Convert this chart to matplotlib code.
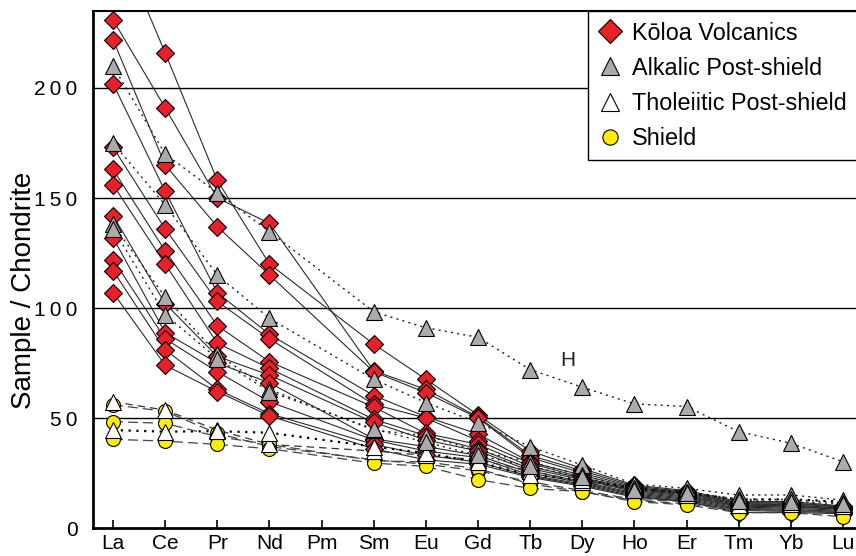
import matplotlib
matplotlib.use("Agg")
import matplotlib.pyplot as plt
from matplotlib.lines import Line2D

plt.rcParams['font.family'] = ['Liberation Sans', 'DejaVu Sans']

elements = ["La", "Ce", "Pr", "Nd", "Pm", "Sm", "Eu", "Gd", "Tb", "Dy", "Ho", "Er", "Tm", "Yb", "Lu"]
measured = ["La", "Ce", "Pr", "Nd", "Sm", "Eu", "Gd", "Tb", "Dy", "Ho", "Er", "Tm", "Yb", "Lu"]

koloa = [
    [272, 216, 158, 120, 83.6, 67.6, 51.4, 35, 27, 19.5, 17, 12, 12, 10],
    [231, 191, 150, 138.5, 71.5, 63, 50.5, 33, 26, 19, 16.5, 11.5, 11.5, 9.5],
    [222, 165, 137, 115, 71, 61.5, 50, 32, 25, 18.5, 16, 11, 11, 9.5],
    [202, 153, 107, 88, 60.2, 50.6, 42.7, 30, 24, 18, 15.5, 11, 10.5, 9],
    [173, 136, 103, 86, 56.2, 50, 39.7, 29.4, 23, 17.5, 15, 10.5, 10, 9],
    [163, 126, 92, 75.6, 55, 43, 38, 28, 22.5, 17, 14.5, 10, 10, 8.5],
    [156, 120, 84, 72.6, 49.4, 42, 36, 27, 22, 16.5, 14, 10, 9.5, 8.5],
    [142, 102, 78, 69.5, 48, 40, 35, 26, 21, 16, 13.5, 9.5, 9, 8],
    [132, 88.8, 75, 66, 40.5, 37, 33, 25, 20.5, 15.5, 13, 9, 8.5, 7.5],
    [122, 86, 71, 57.4, 40, 35, 32, 24, 20, 15, 12.5, 8.5, 8, 7],
    [117, 81, 63, 52, 38, 33, 30, 23.5, 19.5, 14.5, 12, 8, 7.5, 7],
    [107, 74, 62, 51, 36, 31, 29, 23, 19, 14, 12, 7, 7, 6.5],
]
alkalic = [
    [210, 170, 152.4, 134.7, 98.3, 91, 86.7, 72, 64, 56.4, 55.2, 43.8, 38.5, 30.1],
    [175, 146.8, 115, 95.3, 67.6, 57, 47.9, 37, 28.6, 20, 18, 15, 15, 12.7],
    [138, 105, 79, 63, 44.5, 42, 35, 30, 24, 18, 16.5, 13, 13, 11.5],
    [136, 97, 77, 62, 45, 39, 33, 28, 23, 17.5, 16, 12.5, 12, 11],
]
tholeiitic = [
    [57.4, 53.6, 44.5, 38, 35, 33, 31, 26, 21, 17.3, 15, 10.5, 11, 10],
    [44.5, 43.8, 44, 43.3, 37, 34, 30, 24, 22, 18, 16, 13, 13, 12],
]
shield = [
    [56, 53, 43, 37, 31, 29, 26, 21, 17, 13, 12, 9, 8.5, 7.5],
    [48.3, 47.6, 41.5, 38, 30.6, 30, 27, 20, 16.5, 12.5, 11, 8, 8, 7],
    [40.3, 39.5, 38, 36, 29.5, 28, 22, 18, 16.5, 12, 10.5, 7, 7, 5.1],
]
legend_labels = ["Kōloa Volcanics", "Alkalic Post-shield", "Tholeiitic Post-shield", "Shield"]
yticks = [0, 50, 100, 150, 200]

xpos = [elements.index(e) for e in measured]

fig = plt.figure(figsize=(8.56, 5.56), dpi=100)
ax = fig.add_axes([93/856, 1-528/556, 1-93/856, (528-11)/556])

# lines
for s in koloa:
    ax.plot(xpos, s, color='#2a2a2a', lw=0.8, ls='-', zorder=2)
for s in alkalic:
    ax.plot(xpos, s, color='#222222', lw=1.0, ls=(0, (1.5, 3)), zorder=2)
ax.plot(xpos, tholeiitic[0], color='#333333', lw=0.9, ls=(0, (6, 4)), zorder=2)
ax.plot(xpos, tholeiitic[1], color='#000000', lw=1.6, ls=(0, (1, 2.5)), zorder=2)
for s in shield:
    ax.plot(xpos, s, color='#444444', lw=0.9, ls=(0, (8, 4)), zorder=2)

# markers
red = '#e8202a'
for s in koloa:
    ax.plot(xpos, s, ls='none', marker='D', ms=9.5, mfc=red, mec='black', mew=0.8, zorder=4)
for s in shield:
    ax.plot(xpos, s, ls='none', marker='o', ms=10, mfc='#ffee00', mec='black', mew=0.8, zorder=5)
for s in tholeiitic:
    ax.plot(xpos, s, ls='none', marker='^', ms=11, mfc='white', mec='black', mew=0.8, zorder=6)
for s in alkalic:
    ax.plot(xpos, s, ls='none', marker='^', ms=11, mfc='#ababab', mec='black', mew=0.8, zorder=7)

ax.text(8.72, 76, "H", fontsize=15, ha='center', va='center', color='#222222')

ax.set_xlim(-0.384, 14.25)
ax.set_ylim(0, 235)
ax.set_xticks(range(len(elements)))
ax.set_xticklabels(elements, fontsize=15)
ax.set_yticks(yticks)
ax.set_yticklabels(["\u2009".join(str(v)) for v in yticks], fontsize=15)
ax.tick_params(axis='x', direction='in', length=6, width=1.2, pad=4)
ax.tick_params(axis='y', length=0, pad=11)
for v in yticks[1:]:
    ax.axhline(v, color='black', lw=1.0, zorder=1)
ax.spines['right'].set_visible(False)
ax.spines['left'].set_linewidth(2)
ax.spines['bottom'].set_linewidth(2)
ax.spines['top'].set_linewidth(1.5)
ax.set_ylabel("Sample / Chondrite", fontsize=20)
ax.yaxis.set_label_coords(-0.073, 0.46)

handles = [
    Line2D([], [], ls='none', marker='D', ms=12, mfc=red, mec='black', mew=0.8),
    Line2D([], [], ls='none', marker='^', ms=13, mfc='#ababab', mec='black', mew=0.8),
    Line2D([], [], ls='none', marker='^', ms=13, mfc='white', mec='black', mew=0.8),
    Line2D([], [], ls='none', marker='o', ms=11, mfc='#ffee00', mec='black', mew=0.8),
]
leg = fig.legend(handles, legend_labels, loc='upper left', bbox_to_anchor=(588/856, 1-11/556),
                 fontsize=16.8, frameon=True, fancybox=False, edgecolor='black', framealpha=1,
                 handlelength=1.0, handletextpad=0.45, labelspacing=0.52, borderpad=0.45,
                 borderaxespad=0)
leg.get_frame().set_linewidth(1.0)
leg.set_zorder(10)

fig.savefig("out.png", dpi=100)
